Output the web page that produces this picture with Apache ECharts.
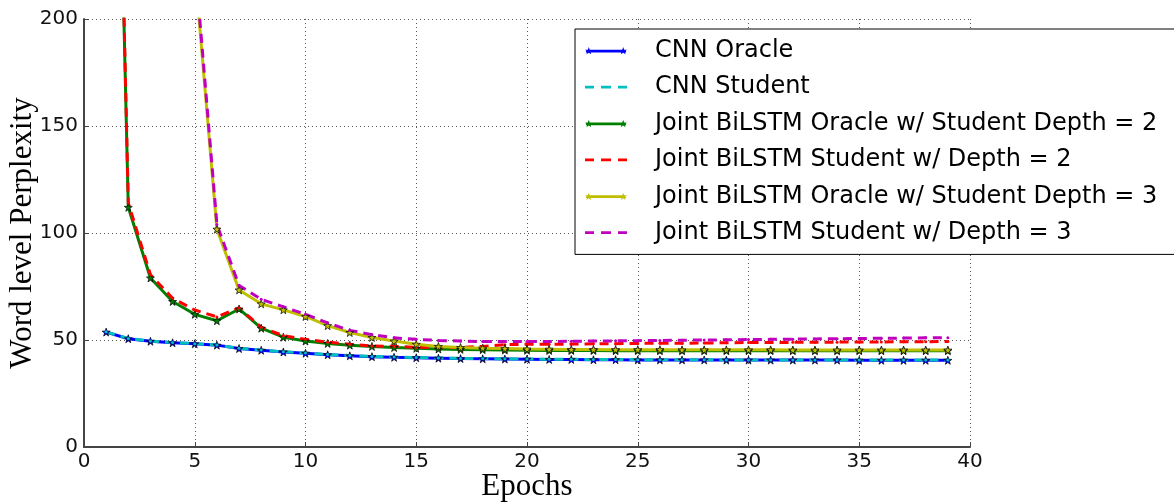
<!DOCTYPE html>
<html>
<head>
<meta charset="utf-8">
<script src="https://cdn.jsdelivr.net/npm/echarts@6/dist/echarts.min.js"></script>
<style>
    html, body {margin: 0; padding: 0; background: #fff;}
    #container {width: 1174px; height: 504px;}
</style>
</head>
<body>
<div id="container"></div>
<script>
var epochs = [1, 2, 3, 4, 5, 6, 7, 8, 9, 10, 11, 12, 13, 14, 15, 16, 17, 18, 19, 20,
    21, 22, 23, 24, 25, 26, 27, 28, 29, 30, 31, 32, 33, 34, 35, 36, 37, 38, 39];

var cnnOracle = [53.7, 50.6, 49.4, 48.7, 48.2, 47.6, 46.0, 45.2, 44.4, 43.8, 43.1, 42.6, 42.2, 41.9, 41.7, 41.5, 41.3, 41.2, 41.1, 41.0,
    40.9, 40.9, 40.8, 40.8, 40.7, 40.7, 40.7, 40.7, 40.6, 40.6, 40.6, 40.6, 40.6, 40.6, 40.5, 40.5, 40.5, 40.5, 40.5];
var cnnStudent = [53.8, 50.7, 49.5, 48.8, 48.3, 47.7, 46.1, 45.3, 44.5, 43.9, 43.2, 42.7, 42.3, 42.0, 41.8, 41.6, 41.4, 41.3, 41.2, 41.1,
    41.0, 41.0, 40.9, 40.9, 40.8, 40.8, 40.8, 40.8, 40.7, 40.7, 40.7, 40.7, 40.7, 40.7, 40.6, 40.6, 40.6, 40.6, 40.6];
var bilstmOracle2 = [555, 112, 79, 68, 62, 59, 64.5, 55.5, 51.3, 49.5, 48.4, 47.6, 47.0, 46.5, 46.1, 45.8, 45.6, 45.5, 45.3, 45.2,
    45.1, 45.1, 45.1, 45.0, 45.0, 45.0, 45.0, 45.0, 45.0, 45.0, 45.0, 45.0, 45.0, 45.0, 45.0, 45.0, 45.0, 45.0, 45.0];
var bilstmStudent2 = [565, 114, 80.5, 69.5, 64, 60.8, 65, 56, 52, 50.3, 49, 48, 47.2, 47, 46.6, 46.5, 46.5, 47, 47.8, 48,
    48, 48.1, 48.2, 48.3, 48.4, 48.5, 48.5, 48.6, 48.7, 48.8, 48.8, 48.9, 49, 49, 49.1, 49.1, 49.2, 49.2, 49.3];
var bilstmOracle3 = [null, null, null, null, 224, 101.8, 73.4, 66.9, 64.1, 61, 56.7, 53.5, 51.2, 49.5, 48, 47, 46.5, 46.2, 46, 45.8,
    45.7, 45.6, 45.6, 45.5, 45.5, 45.5, 45.4, 45.4, 45.4, 45.4, 45.4, 45.3, 45.3, 45.3, 45.3, 45.3, 45.3, 45.3, 45.3];
var bilstmStudent3 = [null, null, null, null, 228, 104, 75.5, 69, 65.5, 62, 58, 54.5, 52.5, 51, 50.3, 49.8, 49.5, 49.3, 49.3, 49.3,
    49.3, 49.4, 49.5, 49.6, 49.7, 49.8, 49.9, 50, 50.1, 50.2, 50.3, 50.4, 50.5, 50.6, 50.7, 50.8, 50.9, 51, 51.1];

var xTicks = [0, 5, 10, 15, 20, 25, 30, 35, 40];
var yTicks = [0, 50, 100, 150, 200];

// star outline, used for the markers and the legend handles
function starPath(cx, cy, r) {
    var d = '';
    for (var i = 0; i < 10; i++) {
        var a = -Math.PI / 2 + i * Math.PI / 5;
        var rr = i % 2 === 0 ? r : r * 0.4;
        d += (i === 0 ? 'M' : 'L') + (cx + rr * Math.cos(a)).toFixed(2) + ',' + (cy + rr * Math.sin(a)).toFixed(2);
    }
    return d + 'Z';
}

var STAR = 'path://' + starPath(0, 0, 10);
var SOLID_ICON = 'path://M0,3.6L42,3.6L42,6.4L0,6.4Z' + starPath(3, 5, 4.2) + starPath(39, 5, 4.2);
var DASHED_ICON = 'path://M0,3.6L9,3.6L9,6.4L0,6.4Z M16,3.6L26,3.6L26,6.4L16,6.4Z M33,3.6L42,3.6L42,6.4L33,6.4Z';

function pairs(values) {
    var out = [];
    for (var i = 0; i < epochs.length; i++) {
        out.push([epochs[i], values[i]]);
    }
    return out;
}

function makeSeries(name, values, color, dashed) {
    return {
        name: name,
        type: 'line',
        data: pairs(values),
        clip: true,
        symbol: dashed ? 'circle' : STAR,
        symbolSize: dashed ? 3 : 8,
        itemStyle: {
            color: color,
            borderColor: dashed ? color : '#000',
            borderWidth: dashed ? 0 : 0.7
        },
        lineStyle: {
            color: color,
            width: 3,
            type: dashed ? [9, 6] : 'solid'
        },
        emphasis: {disabled: true},
        animation: false
    };
}

function createChart() {
    var dom = document.getElementById("container");
    var myChart = echarts.init(dom, null, {renderer: 'canvas'});
    var seriesData = [
        makeSeries('CNN Oracle', cnnOracle, '#0000ff', false),
        makeSeries('CNN Student', cnnStudent, '#00bfbf', true),
        makeSeries('Joint BiLSTM Oracle w/ Student Depth = 2', bilstmOracle2, '#008000', false),
        makeSeries('Joint BiLSTM Student w/ Depth = 2', bilstmStudent2, '#ff0000', true),
        makeSeries('Joint BiLSTM Oracle w/ Student Depth = 3', bilstmOracle3, '#bfbf00', false),
        makeSeries('Joint BiLSTM Student w/ Depth = 3', bilstmStudent3, '#bf00bf', true)
    ];
    var legendData = [];
    for (var i = 0; i < seriesData.length; i++) {
        var dashed = seriesData[i].lineStyle.type !== 'solid';
        legendData.push({
            name: seriesData[i].name,
            icon: dashed ? DASHED_ICON : SOLID_ICON,
            itemStyle: {borderWidth: 0}
        });
    }
    var gridLine = {show: true, lineStyle: {color: '#555', width: 1, type: [1, 3]}};
    var option = {
        animation: false,
        grid: {left: 84, right: 204, top: 19, bottom: 57, containLabel: false, outerBoundsMode: 'none'},
        legend: {
            orient: 'vertical',
            left: 575,
            top: 29,
            padding: [9.5, 60, 9.5, 10],
            itemGap: 12,
            itemWidth: 42,
            itemHeight: 10,
            backgroundColor: '#fff',
            borderColor: '#000',
            borderWidth: 1,
            borderRadius: 0,
            textStyle: {fontFamily: 'DejaVu Sans', fontSize: 24, color: '#000', padding: [0, 0, 0, 23], lineHeight: 24.4},
            data: legendData
        },
        xAxis: {
            type: 'value',
            min: xTicks[0],
            max: xTicks[xTicks.length - 1],
            interval: 5,
            name: 'Epochs',
            nameLocation: 'middle',
            nameGap: 24,
            nameMoveOverlap: false,
            nameTextStyle: {fontFamily: 'Liberation Serif', fontSize: 31, color: '#000'},
            axisLine: {lineStyle: {color: '#444', width: 2}},
            axisTick: {inside: true, length: 5, lineStyle: {color: '#444'}},
            axisLabel: {fontFamily: 'DejaVu Sans', fontSize: 20, color: '#111', margin: 5},
            splitLine: gridLine
        },
        yAxis: {
            type: 'value',
            min: yTicks[0],
            max: yTicks[yTicks.length - 1],
            interval: 50,
            name: 'Word level Perplexity',
            nameLocation: 'middle',
            nameGap: 46,
            nameMoveOverlap: false,
            nameTextStyle: {fontFamily: 'Liberation Serif', fontSize: 31, color: '#000'},
            axisLine: {show: true, lineStyle: {color: '#444', width: 2}},
            axisTick: {show: true, inside: true, length: 5, lineStyle: {color: '#444'}},
            axisLabel: {fontFamily: 'DejaVu Sans', fontSize: 20, color: '#111', margin: 6},
            splitLine: gridLine
        },
        series: seriesData
    };
    myChart.setOption(option, true);
}

createChart();
</script>
</body>
</html>
